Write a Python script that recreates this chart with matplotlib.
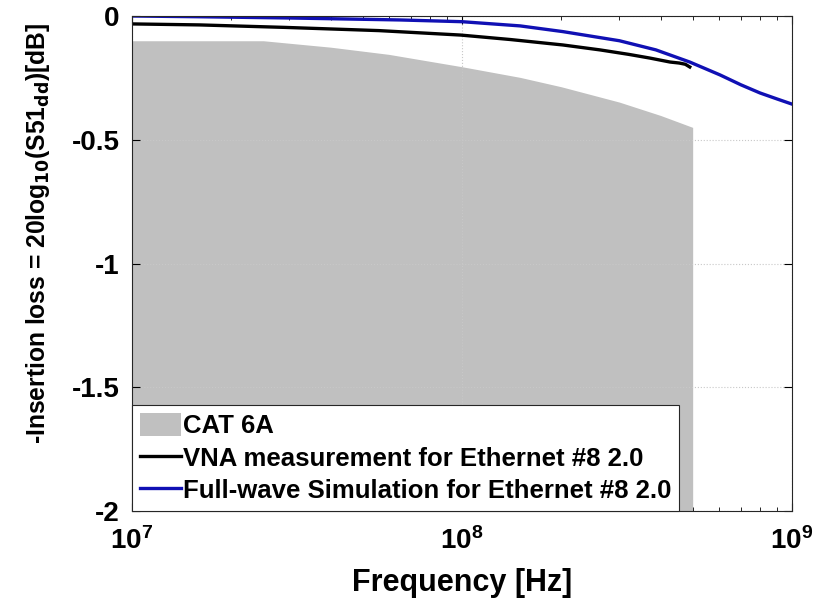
import numpy as np
import matplotlib
matplotlib.use("Agg")
import matplotlib.pyplot as plt
from matplotlib.patches import Patch
from matplotlib.lines import Line2D

plt.rcParams['font.family'] = ['Liberation Sans', 'DejaVu Sans']
plt.rcParams['font.weight'] = 'bold'
plt.rcParams['mathtext.default'] = 'bf'

# CAT 6A limit (read from the grey area), MHz / dB
cat_freq_mhz = [10, 15, 20, 25, 40, 60, 100, 150, 200, 300, 400, 500]
cat_loss_db = [-0.1, -0.1, -0.1, -0.1, -0.126, -0.155, -0.205, -0.248, -0.286, -0.348, -0.402, -0.45]

# VNA measurement, MHz / dB
vna_freq_mhz = [10, 16, 29, 56, 99, 140, 202, 262, 320, 371, 427, 455, 475, 490]
vna_loss_db = [-0.032, -0.036, -0.046, -0.059, -0.077, -0.095, -0.117, -0.137, -0.155, -0.17, -0.186, -0.19, -0.195, -0.206]

# full-wave simulation, MHz / dB
sim_freq_mhz = [10, 16, 30, 65, 100, 150, 202, 300, 387, 490, 605, 700, 800, 900, 1000]
sim_loss_db = [0.0, -0.003, -0.008, -0.016, -0.023, -0.04, -0.063, -0.1, -0.137, -0.186, -0.238, -0.278, -0.311, -0.335, -0.356]

fig = plt.figure(figsize=(8.23, 6.05), dpi=100)
ax = fig.add_axes([132 / 823, (605 - 511) / 605, 660 / 823, 495 / 605])

hz = lambda v: np.array(v) * 1e6
ax.fill_between(hz(cat_freq_mhz), cat_loss_db, -2, color='#c0c0c0', linewidth=0)
ax.plot(hz(vna_freq_mhz), vna_loss_db, color='black', linewidth=2.4)
ax.plot(hz(sim_freq_mhz), sim_loss_db, color='#1010b4', linewidth=2.4)

ax.set_xscale('log')
ax.set_xlim(1e7, 1e9)
ax.set_ylim(-2, 0)
ax.set_yticks([-2, -1.5, -1, -0.5, 0])
ax.set_yticklabels(['-2', '-1.5', '-1', '-0.5', '0'])
ax.grid(True, which='major', linestyle=':', color='#c8c8c8', linewidth=0.8)
ax.tick_params(which='both', direction='in', top=True, right=True, labelsize=20)
ax.tick_params(which='major', length=6)
ax.tick_params(which='minor', length=3)
ax.tick_params(axis='x', which='major', pad=12)
ax.tick_params(axis='y', which='major', pad=9)
for s in ax.spines.values():
    s.set_linewidth(0.8)
    s.set_color('#262626')

ax.set_xlabel('Frequency [Hz]', fontsize=22, fontweight='bold', labelpad=9)
ax.set_ylabel(r'-Insertion loss = 20log$_{10}$(S51$_{dd}$)[dB]', fontsize=17.7,
              fontweight='bold')
ax.yaxis.set_label_coords(-0.121, 0.56)

handles = [Patch(facecolor='#c0c0c0', edgecolor='none'),
           Line2D([], [], color='black', linewidth=2.4),
           Line2D([], [], color='#1010b4', linewidth=2.4)]
labels = ['CAT 6A', 'VNA measurement for Ethernet #8 2.0',
          'Full-wave Simulation for Ethernet #8 2.0']
leg = ax.legend(handles, labels, loc='lower left', fontsize=18.5, frameon=True,
                fancybox=False, edgecolor='#262626', framealpha=1,
                borderaxespad=0, handlelength=1.6, handleheight=1.0,
                handletextpad=0.1, labelspacing=0.28, borderpad=0.3)
leg.get_frame().set_linewidth(0.8)
for t in leg.get_texts():
    t.set_fontweight('bold')

fig.savefig('out.png', dpi=100)
